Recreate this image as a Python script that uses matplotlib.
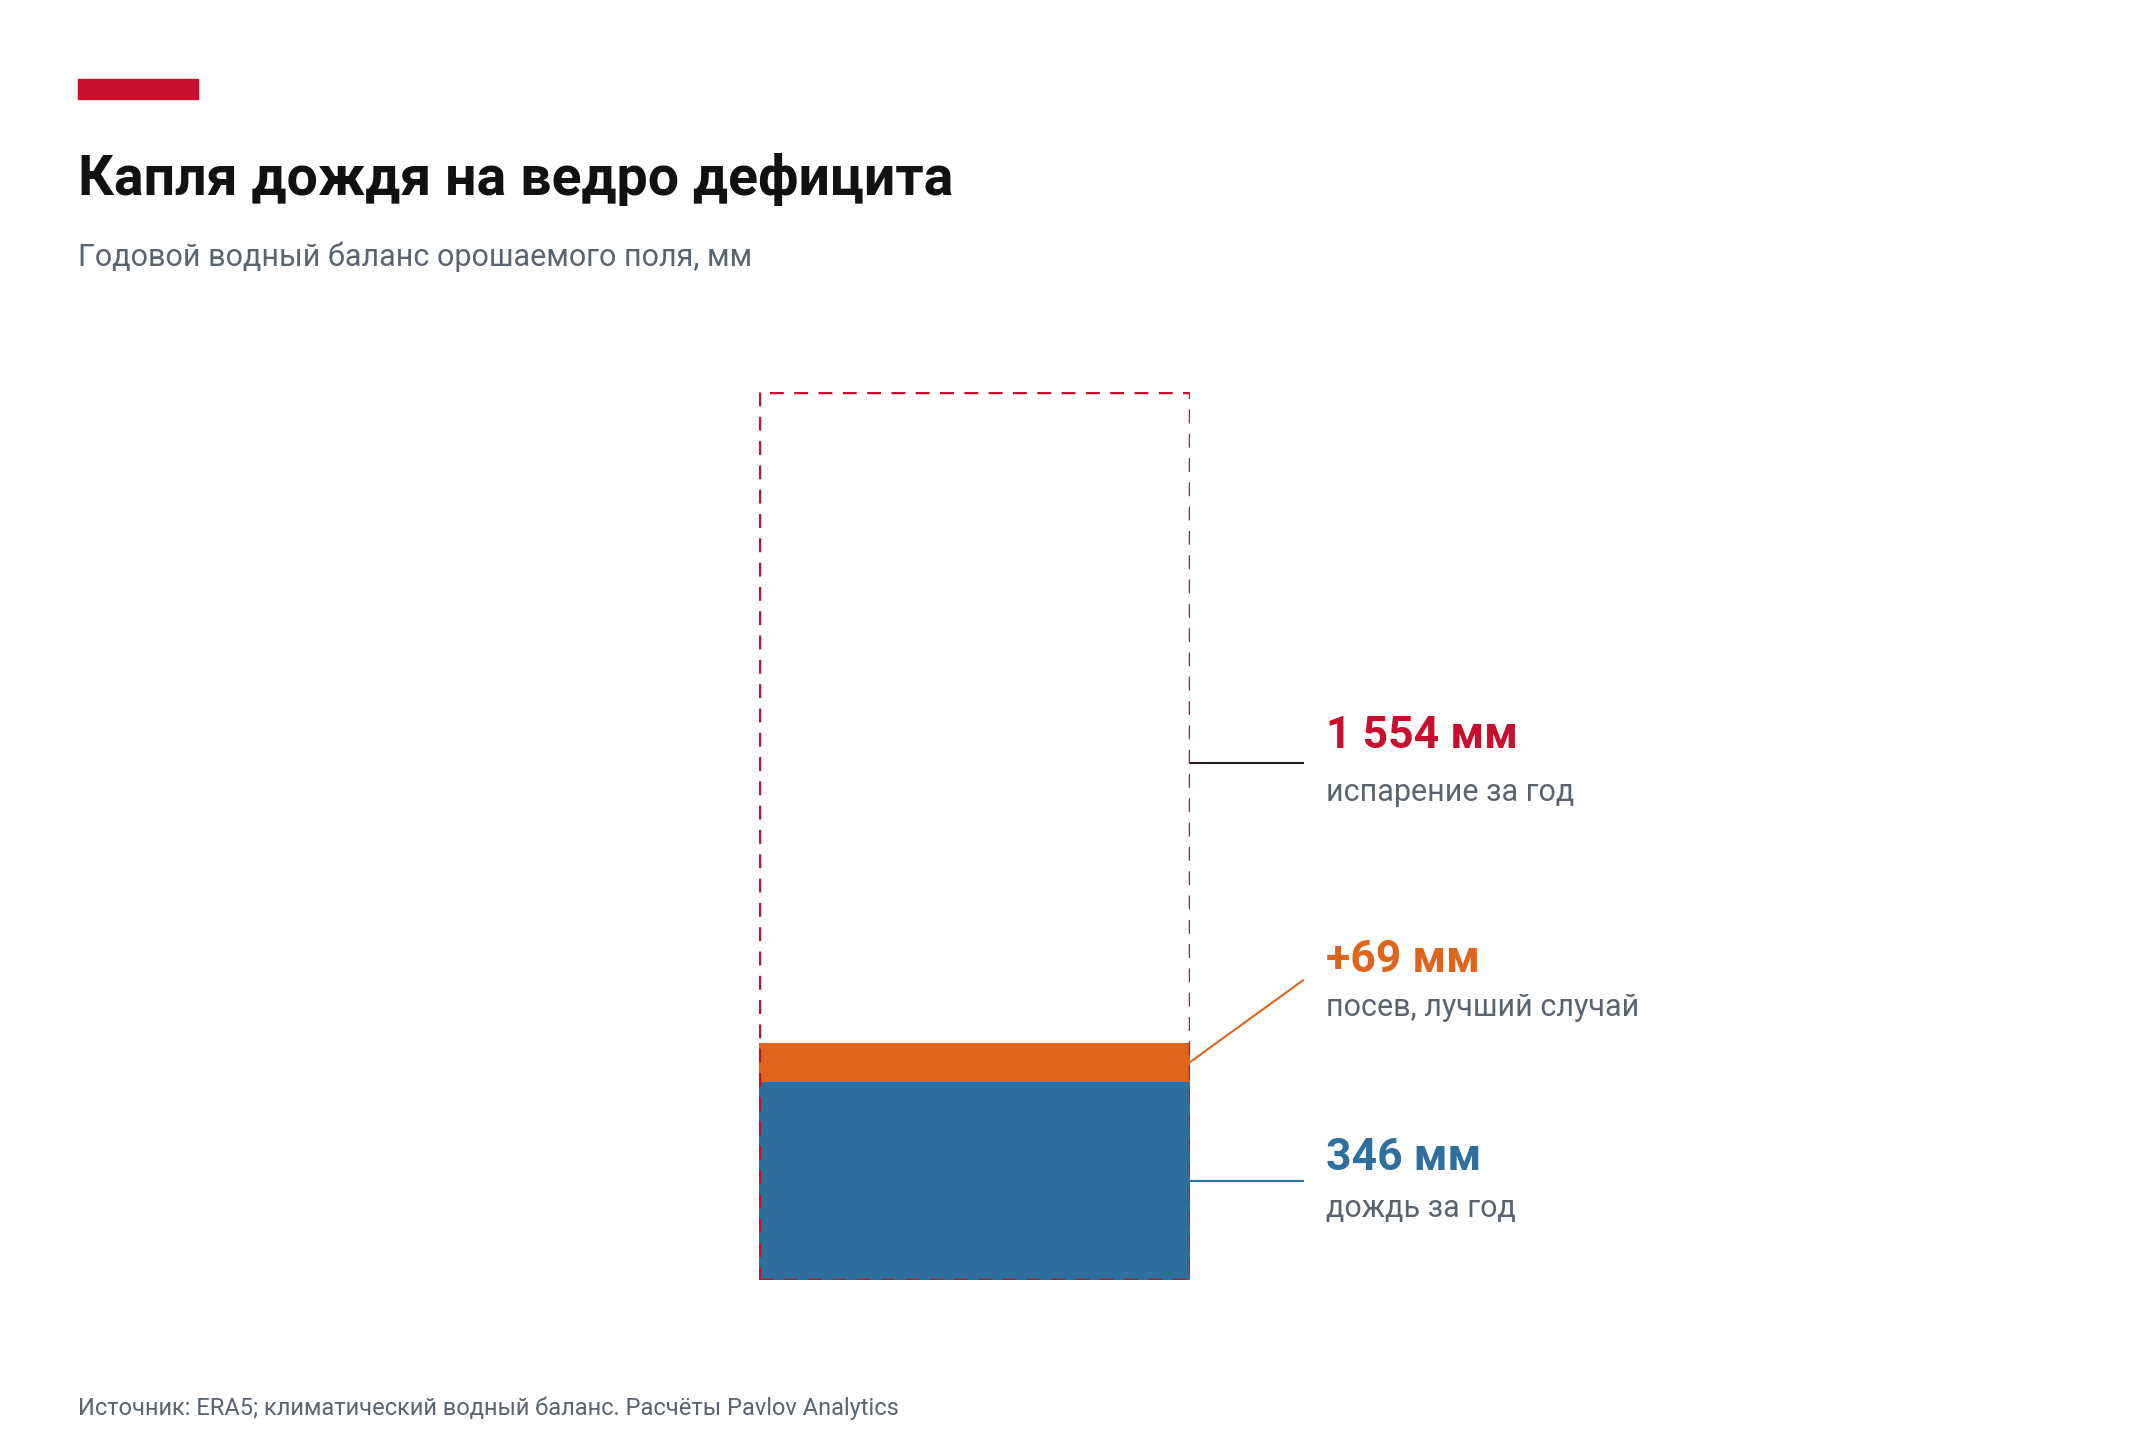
import matplotlib.pyplot as plt
from matplotlib.patches import Rectangle

plt.rcParams['font.family'] = ['Roboto', 'DejaVu Sans']

# data
rain = 346
seeding = 69
evaporation = 1554
labels = ['1 554 мм', '+69 мм', '346 мм']
sublabels = ['испарение за год', 'посев, лучший случай', 'дождь за год']

RED = '#c8102e'
ORANGE = '#e0641a'
BLUE = '#2e6f9e'
GRAY = '#5a6470'

fig = plt.figure(figsize=(21.32, 14.56), dpi=100)
fig.patches.append(Rectangle((0.0365, 0.932), 0.0565, 0.014, color=RED,
                             transform=fig.transFigure, figure=fig))
fig.text(0.0365, 0.866, 'Капля дождя на ведро дефицита', fontsize=40,
         fontweight='bold', color='#111111')
fig.text(0.0365, 0.817, 'Годовой водный баланс орошаемого поля, мм',
         fontsize=22, color=GRAY)
fig.text(0.0365, 0.028, 'Источник: ERA5; климатический водный баланс. Расчёты Pavlov Analytics',
         fontsize=17, color=GRAY)

ax = fig.add_axes([0.356, 0.121, 0.202, 0.610])
ax.set_xlim(0, 1)
ax.set_ylim(0, evaporation)
ax.axis('off')

ax.bar(0.5, rain, width=1, color=BLUE)
ax.bar(0.5, seeding, width=1, bottom=rain, color=ORANGE)
ax.add_patch(Rectangle((0, 0), 1, evaporation, fill=False, edgecolor=RED,
                       linestyle=(0, (4, 3)), linewidth=2.5, zorder=5))

xl, xt = 1.263, 1.317
# evaporation label
ax.plot([1, xl], [904, 904], color='#222222', lw=1.5, clip_on=False)
ax.text(xt, 951, labels[0], color=RED, fontsize=32, fontweight='bold', va='center')
ax.text(xt, 853, sublabels[0], color=GRAY, fontsize=22, va='center')
# seeding label
ax.plot([1, xl], [rain + seeding / 2, 524], color=ORANGE, lw=1.5, clip_on=False)
ax.text(xt, 559, labels[1], color=ORANGE, fontsize=32, fontweight='bold', va='center')
ax.text(xt, 476, sublabels[1], color=GRAY, fontsize=22, va='center')
# rain label
ax.plot([1, xl], [rain / 2, rain / 2], color=BLUE, lw=1.5, clip_on=False)
ax.text(xt, 213, labels[2], color=BLUE, fontsize=32, fontweight='bold', va='center')
ax.text(xt, 124, sublabels[2], color=GRAY, fontsize=22, va='center')

fig.savefig('out.png', dpi=100, facecolor='white')
